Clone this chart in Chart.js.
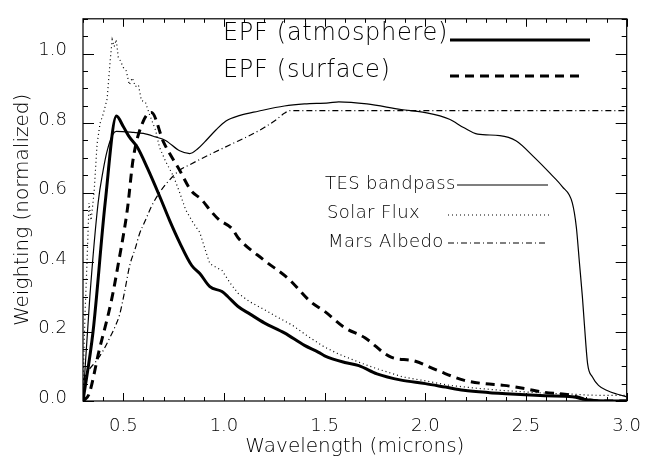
<!DOCTYPE html>
<html>
<head>
<meta charset="utf-8">
<script src="https://cdn.jsdelivr.net/npm/chart.js@4"></script>
<style>
  body { margin: 0; background: #fff; }
  #wrap { width: 648px; height: 462px; }
</style>
</head>
<body>
<div id="wrap"><canvas id="epfChart" width="648" height="462"></canvas></div>
<script>
// wavelength (microns) / normalized weighting
var atmWave = [0.30, 0.35, 0.41, 0.466, 0.50, 0.53, 0.57, 0.62, 0.68, 0.73, 0.78, 0.84, 0.88, 0.93, 0.99, 1.02, 1.07, 1.13, 1.2, 1.3, 1.4, 1.47, 1.5, 1.6, 1.67, 1.76, 1.88, 2.0, 2.1, 2.19, 2.32, 2.4, 2.52, 2.6, 2.73, 2.81, 2.9, 3.0];
var atmValue = [0.0, 0.20, 0.57, 0.82, 0.79, 0.76, 0.73, 0.67, 0.59, 0.52, 0.456, 0.39, 0.367, 0.329, 0.315, 0.30, 0.272, 0.25, 0.225, 0.196, 0.16, 0.14, 0.13, 0.111, 0.102, 0.078, 0.06, 0.05, 0.04, 0.031, 0.024, 0.021, 0.017, 0.015, 0.012, 0.003, 0.0, 0.0];

var surfWave = [0.30, 0.33, 0.38, 0.44, 0.48, 0.52, 0.55, 0.60, 0.64, 0.70, 0.78, 0.835, 0.89, 0.93, 0.975, 1.04, 1.07, 1.2, 1.32, 1.43, 1.5, 1.6, 1.7, 1.83, 1.94, 2.06, 2.19, 2.29, 2.39, 2.5, 2.58, 2.72, 2.81, 2.9, 3.0];
var surfValue = [0.0, 0.02, 0.145, 0.286, 0.41, 0.55, 0.70, 0.806, 0.83, 0.745, 0.664, 0.607, 0.579, 0.55, 0.522, 0.496, 0.47, 0.405, 0.352, 0.286, 0.258, 0.211, 0.182, 0.126, 0.116, 0.088, 0.06, 0.05, 0.045, 0.035, 0.026, 0.017, 0.003, 0.0, 0.0];

var tesWave = [0.30, 0.334, 0.375, 0.40, 0.42, 0.449, 0.466, 0.55, 0.6, 0.66, 0.71, 0.78, 0.83, 0.87, 0.91, 0.96, 1.01, 1.08, 1.17, 1.3, 1.4, 1.52, 1.57, 1.71, 1.88, 2.0, 2.12, 2.19, 2.26, 2.37, 2.45, 2.54, 2.62, 2.68, 2.73, 2.75, 2.765, 2.78, 2.79, 2.806, 2.83, 2.86, 2.9, 2.95, 3.0];
var tesValue = [0.0, 0.30, 0.57, 0.664, 0.72, 0.768, 0.776, 0.773, 0.77, 0.76, 0.75, 0.72, 0.712, 0.726, 0.749, 0.78, 0.806, 0.822, 0.834, 0.849, 0.855, 0.858, 0.861, 0.855, 0.839, 0.83, 0.811, 0.787, 0.768, 0.764, 0.749, 0.702, 0.655, 0.617, 0.57, 0.50, 0.40, 0.30, 0.22, 0.107, 0.069, 0.045, 0.031, 0.02, 0.012];

var solarWave = [0.30, 0.31, 0.32, 0.33, 0.34, 0.355, 0.37, 0.385, 0.40, 0.42, 0.435, 0.445, 0.455, 0.465, 0.475, 0.485, 0.50, 0.515, 0.53, 0.545, 0.56, 0.575, 0.59, 0.61, 0.63, 0.66, 0.68, 0.71, 0.75, 0.78, 0.81, 0.85, 0.88, 0.91, 0.93, 0.96, 0.99, 1.03, 1.07, 1.13, 1.2, 1.27, 1.34, 1.42, 1.5, 1.57, 1.63, 1.7, 1.76, 1.83, 1.89, 2.0, 2.12, 2.25, 2.37, 2.5, 2.62, 2.72, 2.81, 2.9, 3.0];
var solarValue = [0.05, 0.25, 0.40, 0.57, 0.52, 0.60, 0.74, 0.80, 0.825, 0.87, 0.98, 1.04, 1.02, 1.04, 0.99, 0.98, 0.96, 0.95, 0.91, 0.93, 0.905, 0.91, 0.865, 0.86, 0.825, 0.78, 0.73, 0.69, 0.646, 0.60, 0.55, 0.51, 0.485, 0.43, 0.395, 0.385, 0.376, 0.34, 0.31, 0.285, 0.263, 0.24, 0.218, 0.185, 0.155, 0.135, 0.121, 0.105, 0.093, 0.08, 0.069, 0.058, 0.045, 0.037, 0.031, 0.026, 0.022, 0.02, 0.017, 0.016, 0.016];

var albedoWave = [0.30, 0.33, 0.367, 0.40, 0.433, 0.46, 0.482, 0.505, 0.532, 0.56, 0.58, 0.61, 0.64, 0.68, 0.72, 0.78, 0.83, 0.88, 0.95, 1.04, 1.12, 1.2, 1.26, 1.3, 1.33, 1.5, 2.0, 2.5, 3.0];
var albedoValue = [0.06, 0.09, 0.116, 0.145, 0.182, 0.215, 0.249, 0.31, 0.39, 0.44, 0.48, 0.52, 0.56, 0.60, 0.63, 0.664, 0.68, 0.695, 0.715, 0.74, 0.762, 0.787, 0.81, 0.828, 0.836, 0.836, 0.836, 0.836, 0.836];

var xMajorTicks = [0.5, 1.0, 1.5, 2.0, 2.5, 3.0];
var yMajorTicks = [0.0, 0.2, 0.4, 0.6, 0.8, 1.0];

function pts(xs, ys) {
    return xs.map(function (x, i) { return {x: x, y: ys[i]}; });
}

var FONT = '"DejaVu Sans", "Liberation Sans", sans-serif';

// IDL style box: ticks pointing inward on all four sides
var boxTicks = {
    id: 'boxTicks',
    afterDraw: function (chart) {
        var ctx = chart.ctx, a = chart.chartArea;
        var xs = chart.scales.x, ys = chart.scales.y;
        ctx.save();
        ctx.strokeStyle = '#000';
        ctx.lineWidth = 1.2;
        ctx.strokeRect(a.left, a.top, a.right - a.left, a.bottom - a.top);
        ctx.lineWidth = 1;
        ctx.beginPath();
        for (var i = 3; i <= 30; i++) {
            var v = i / 10;
            var px = Math.round(xs.getPixelForValue(v)) + 0.5;
            var len = (i % 5 === 0) ? 8 : 4;
            ctx.moveTo(px, a.bottom); ctx.lineTo(px, a.bottom - len);
            ctx.moveTo(px, a.top); ctx.lineTo(px, a.top + len);
        }
        for (var j = 0; j <= 22; j++) {
            var w = j / 20;
            var py = Math.round(ys.getPixelForValue(w)) + 0.5;
            var l2 = (j % 4 === 0) ? 11 : 5;
            ctx.moveTo(a.left, py); ctx.lineTo(a.left + l2, py);
            ctx.moveTo(a.right, py); ctx.lineTo(a.right - l2, py);
        }
        ctx.stroke();
        ctx.restore();
    }
};

// legend text + line samples placed as in the figure
var figLegend = {
    id: 'figLegend',
    afterDraw: function (chart) {
        var ctx = chart.ctx;
        ctx.save();
        ctx.fillStyle = '#000';
        ctx.strokeStyle = '#000';
        ctx.textBaseline = 'middle';
        ctx.textAlign = 'left';

        ctx.font = '200 24px ' + FONT;
        ctx.letterSpacing = '0.7px';
        ctx.fillText('EPF (atmosphere)', 223, 34);
        ctx.fillText('EPF (surface)', 223, 71);
        ctx.lineWidth = 3;
        ctx.beginPath(); ctx.moveTo(450, 40); ctx.lineTo(590, 40); ctx.stroke();
        ctx.setLineDash([9, 6]);
        ctx.beginPath(); ctx.moveTo(450, 76); ctx.lineTo(585, 76); ctx.stroke();

        ctx.font = '200 18px ' + FONT;
        ctx.letterSpacing = '0.4px';
        ctx.fillText('TES bandpass', 325, 184);
        ctx.fillText('Solar Flux', 327, 213);
        ctx.fillText('Mars Albedo', 328, 242);
        ctx.lineWidth = 1.2;
        ctx.setLineDash([]);
        ctx.beginPath(); ctx.moveTo(457, 185); ctx.lineTo(548, 185); ctx.stroke();
        ctx.setLineDash([1, 3]);
        ctx.beginPath(); ctx.moveTo(448, 215); ctx.lineTo(550, 215); ctx.stroke();
        ctx.setLineDash([6, 3, 1, 3]);
        ctx.beginPath(); ctx.moveTo(448, 243); ctx.lineTo(547, 243); ctx.stroke();
        ctx.restore();
    }
};

var ctx = document.getElementById('epfChart').getContext('2d');

var epfChart = new Chart(ctx, {
    type: 'line',
    data: {
        datasets: [
            {
                label: 'EPF (atmosphere)',
                data: pts(atmWave, atmValue),
                borderColor: '#000',
                borderWidth: 3,
                cubicInterpolationMode: 'monotone'
            },
            {
                label: 'EPF (surface)',
                data: pts(surfWave, surfValue),
                borderColor: '#000',
                borderWidth: 3,
                borderDash: [9, 6],
                cubicInterpolationMode: 'monotone'
            },
            {
                label: 'TES bandpass',
                data: pts(tesWave, tesValue),
                borderColor: '#000',
                borderWidth: 1.2,
                cubicInterpolationMode: 'monotone'
            },
            {
                label: 'Solar Flux',
                data: pts(solarWave, solarValue),
                borderColor: '#000',
                borderWidth: 1.2,
                borderDash: [1, 3],
                tension: 0
            },
            {
                label: 'Mars Albedo',
                data: pts(albedoWave, albedoValue),
                borderColor: '#000',
                borderWidth: 1.2,
                borderDash: [6, 3, 1, 3],
                cubicInterpolationMode: 'monotone'
            }
        ]
    },
    options: {
        responsive: false,
        animation: false,
        layout: { padding: { top: 13, right: 16, left: 0, bottom: 0 } },
        elements: { point: { radius: 0 } },
        plugins: { legend: { display: false }, tooltip: { enabled: false } },
        scales: {
            x: {
                type: 'linear',
                min: 0.3,
                max: 3.0,
                afterFit: function (s) { s.height = 61; },
                afterBuildTicks: function (s) {
                    s.ticks = xMajorTicks.map(function (v) { return {value: v}; });
                },
                grid: { display: false },
                border: { display: false },
                ticks: {
                    color: '#000',
                    padding: 7,
                    maxRotation: 0,
                    font: { family: FONT, size: 18, weight: 200 },
                    callback: function (v) { return Number(v).toFixed(1); }
                },
                title: {
                    display: true,
                    text: 'Wavelength (microns)',
                    color: '#000',
                    font: { family: FONT, size: 20, weight: 200 },
                    padding: { top: 0, bottom: 3 }
                }
            },
            y: {
                type: 'linear',
                min: 0,
                max: 1.1,
                afterFit: function (s) { s.width = 83; },
                afterBuildTicks: function (s) {
                    s.ticks = yMajorTicks.map(function (v) { return {value: v}; });
                },
                grid: { display: false },
                border: { display: false },
                ticks: {
                    color: '#000',
                    padding: 8,
                    labelOffset: -3,
                    font: { family: FONT, size: 18, weight: 200 },
                    callback: function (v) { return Number(v).toFixed(1); }
                },
                title: {
                    display: true,
                    text: 'Weighting (normalized)',
                    color: '#000',
                    font: { family: FONT, size: 20, weight: 200 },
                    padding: { top: 11, bottom: 0 }
                }
            }
        }
    },
    plugins: [boxTicks, figLegend]
});
</script>
</body>
</html>
